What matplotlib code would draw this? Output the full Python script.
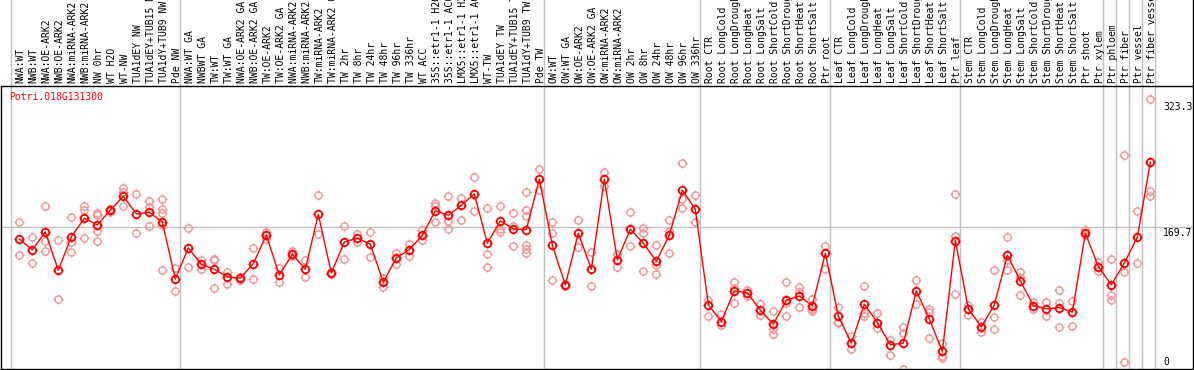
import matplotlib
matplotlib.use("Agg")
import matplotlib.pyplot as plt
import matplotlib.transforms as mtransforms
from matplotlib.path import Path

# ---------------- data ----------------
title = "Potri.018G131300"

labels = [
    "NWA:WT", "NWB:WT", "NWA:OE-ARK2", "NWB:OE-ARK2", "NWA:miRNA-ARK2", "NWB:miRNA-ARK2",
    "NW 0hr", "WT H2O", "WT-NW", "TUA1dEY NW", "TUA1dEY+TUB15 NW", "TUA1dY+TUB9 NW", "Pde NW",
    "NWA:WT GA", "NWBWT GA", "TW:WT", "TW:WT GA", "NWA:OE-ARK2 GA", "NWB:OE-ARK2 GA",
    "TW:OE-ARK2", "TW:OE-ARK2 GA", "NWA:miRNA-ARK2 GA", "NWB:miRNA-ARK2 GA", "TW:miRNA-ARK2",
    "TW:miRNA-ARK2 GA", "TW 2hr", "TW 8hr", "TW 24hr", "TW 48hr", "TW 96hr", "TW 336hr", "WT ACC",
    "35S::etr1-1 H2O", "35S::etr1-1 ACC", "LMX5::etr1-1 H2O", "LMX5::etr1-1 ACC", "WT-TW",
    "TUA1dEY TW", "TUA1dEY+TUB15 TW", "TUA1dY+TUB9 TW", "Pde TW",
    "OW:WT", "OW:WT GA", "OW:OE-ARK2", "OW:OE-ARK2 GA", "OW:miRNA-ARK2", "OW:miRNA-ARK2",
    "OW 2hr", "OW 8hr", "OW 24hr", "OW 48hr", "OW 96hr", "OW 336hr",
    "Root CTR", "Root LongCold", "Root LongDrought", "Root LongHeat", "Root LongSalt",
    "Root ShortCold", "Root ShortDrought", "Root ShortHeat", "Root ShortSalt", "Ptr root",
    "Leaf CTR", "Leaf LongCold", "Leaf LongDrought", "Leaf LongHeat", "Leaf LongSalt",
    "Leaf ShortCold", "Leaf ShortDrought", "Leaf ShortHeat", "Leaf ShortSalt", "Ptr leaf",
    "Stem CTR", "Stem LongCold", "Stem LongDrought", "Stem LongHeat", "Stem LongSalt",
    "Stem ShortCold", "Stem ShortDrought", "Stem ShortHeat", "Stem ShortSalt", "Ptr shoot",
    "Ptr xylem", "Ptr phloem", "Ptr fiber", "Ptr vessel", "Ptr fiber vessel",
]

means = [
    155.9, 142.8, 164.3, 118.4, 158.3, 180.7, 172.7, 190.3, 207.1, 185.9,
    187.9, 176.3, 107.7, 145.2, 125.6, 119.6, 110.4, 108.9, 126.3, 160.4,
    112.5, 137.6, 119.6, 185.5, 114.9, 152.3, 156.8, 149.6, 104.1, 133.2,
    143.1, 160.4, 189.5, 184.3, 196.3, 209.8, 150.8, 177.5, 167.9, 167.1,
    227.4, 148.4, 100.8, 162.8, 119.6, 227.4, 130.8, 167.5, 150.8, 129.2,
    160.4, 214.3, 191.5, 76.9, 56.9, 93.7, 91.3, 70.5, 53.8, 82.5,
    87.3, 76.0, 138.8, 63.4, 31.0, 77.7, 55.7, 29.0, 31.0, 93.7,
    59.8, 21.2, 153.9, 72.1, 50.5, 76.9, 136.4, 105.6, 76.0, 72.1,
    73.7, 68.1, 162.8, 122.8, 100.8, 127.2, 158.0, 248.1,
]

replicates = [
    [175.9, 136.4], [158.0, 126.8], [195.1, 153.9, 141.6], [154.4, 83.7],
    [181.9, 152.7, 140.4], [195.8, 190.3, 156.8], [187.4, 184.7, 165.9, 153.5],
    [191.9, 188.6, 190.3], [217.4, 212.6, 195.4], [209.8, 163.1],
    [201.4, 194.3, 171.5], [203.5, 191.5, 186.7, 172.7, 118.4], [121.6, 93.7],
    [168.7, 122.4], [130.8, 119.6], [132.0, 130.4, 96.9], [116.4, 102.4],
    [110.4, 107.2], [144.8, 108.0], [164.7, 155.9], [121.6, 104.1],
    [141.2, 135.6], [130.8, 110.4], [208.3, 161.6], [116.0, 113.8],
    [171.1, 131.6], [161.9, 152.0], [164.3, 134.4], [109.6, 98.1],
    [139.2, 126.0], [149.6, 135.9], [166.7, 154.7], [199.4, 195.4, 176.3],
    [207.4, 177.8, 167.9], [205.4, 178.3], [230.2, 189.5], [192.7, 137.6, 122.4],
    [195.1, 168.3, 164.0], [187.1, 171.1, 147.2],
    [212.2, 191.0, 183.5, 148.7, 144.3, 139.5], [239.4, 214.6],
    [176.3, 163.1, 106.5], [102.0, 99.5], [178.3, 146.0], [140.0, 99.6],
    [236.2, 219.4], [138.3, 122.0], [187.9, 147.2], [169.5, 162.8, 117.6],
    [149.1, 124.4, 114.4], [178.3, 165.9, 138.8], [247.3, 203.5, 192.7],
    [208.6, 176.3], [82.5, 63.7], [66.5, 52.9], [104.1, 96.9, 78.9],
    [95.2, 88.0], [77.7, 64.6], [69.3, 47.8, 42.5], [104.1, 78.9, 63.7],
    [98.4, 92.5, 74.5], [84.4, 72.5, 69.7], [147.2, 119.6], [74.5, 56.9, 55.0],
    [39.4, 23.8], [100.0, 66.9, 63.4], [67.7, 49.0], [35.3, 16.6],
    [50.9, 43.0, 0.0], [106.8, 77.7], [72.5, 68.9, 37.4], [31.7, 15.0, 13.1],
    [209.8, 159.5, 90.1], [76.9, 64.9], [56.9, 44.9], [118.8, 62.2, 47.8],
    [158.0, 130.8, 118.8], [116.4, 110.8, 89.2], [80.8, 71.7], [80.8, 63.7],
    [94.9, 78.7, 50.5], [81.7, 51.4], [167.1, 160.4], [128.7, 117.2],
    [131.6, 88.9, 82.9], [256.2, 116.0, 8.3], [189.5, 127.2],
    [323.3, 213.8, 207.4],
]

group_bounds = [0, 13, 41, 53, 63, 73, 84, 85, 86, 87, 88]
ytick_values = [323.3, 169.7, 0]

# ---------------- style ----------------
W, H = 1194, 370
MONO = "DejaVu Sans Mono"
RED = "#ff0000"
PINK = "#f09696"
GRID = "#c0c0c0"

fig = plt.figure(figsize=(W / 100, H / 100), dpi=100)
fig.patch.set_facecolor("white")
ax = fig.add_axes([0.5 / W, 1 / H, (1193 - 0.5) / W, 283 / H])

x = list(range(len(labels)))
ax.set_xlim(-1.446, 90.28)
ax.set_ylim(0, 339.2)
ax.set_xticks([])
ax.set_yticks([])
for s in ax.spines.values():
    s.set_color("black")
    s.set_linewidth(1.0)

# grid lines
ax.axhline(169.7, color=GRID, lw=1.0, zorder=1)
for b in group_bounds:
    ax.axvline(b - 0.62, ymin=0, ymax=369 / 283, color=GRID, lw=1.0,
               clip_on=False, zorder=1)
# right border of header
ax.plot([1, 1], [1, 369 / 283], transform=ax.transAxes, color="black",
        lw=1.0, clip_on=False)

# markers: circle + four small ticks
tick_path = Path(
    [(0, 0.6), (0, 1), (0, -0.6), (0, -1), (0.6, 0), (1, 0), (-0.6, 0), (-1, 0)],
    [Path.MOVETO, Path.LINETO] * 4,
)

rx, ry = [], []
for i, reps in enumerate(replicates):
    for v in reps:
        rx.append(i)
        ry.append(v)
ax.plot(rx, ry, ls="none", marker="o", ms=5.2, mfc="none", mec=PINK, mew=1.0, zorder=2)
ax.plot(rx, ry, ls="none", marker=tick_path, ms=7.4, mec=PINK, mew=0.9, zorder=2)

ax.plot(x, means, color=RED, lw=1.0, zorder=3)
ax.plot(x, means, ls="none", marker="o", ms=5.4, mfc="none", mec=RED, mew=1.3, zorder=4)
ax.plot(x, means, ls="none", marker=tick_path, ms=7.6, mec=RED, mew=1.0, zorder=4)

# header labels
hdr = mtransforms.blended_transform_factory(ax.transData, ax.transAxes)
hdr = mtransforms.offset_copy(hdr, fig=fig, x=0, y=3, units="dots")
for i, lab in enumerate(labels):
    ax.text(i + 0.1, 1, lab, transform=hdr, rotation=90, ha="center", va="bottom",
            fontsize=7, family=MONO, color="black", clip_on=False)

# title
ax.text(0.0074, 0.960, title, transform=ax.transAxes, color=RED, fontsize=7,
        family=MONO, va="center", ha="left")

# right-side value labels
lab_offsets = [-7.8, -5.3, 7.0]
for v, dy in zip(ytick_values, lab_offsets):
    tr = mtransforms.blended_transform_factory(ax.transAxes, ax.transData)
    tr = mtransforms.offset_copy(tr, fig=fig, x=0, y=dy, units="dots")
    ax.text(0.9748, v, f"{v:g}", transform=tr, fontsize=7, family=MONO,
            va="center", ha="left", color="black")

fig.savefig("out.png", dpi=100, facecolor="white")
